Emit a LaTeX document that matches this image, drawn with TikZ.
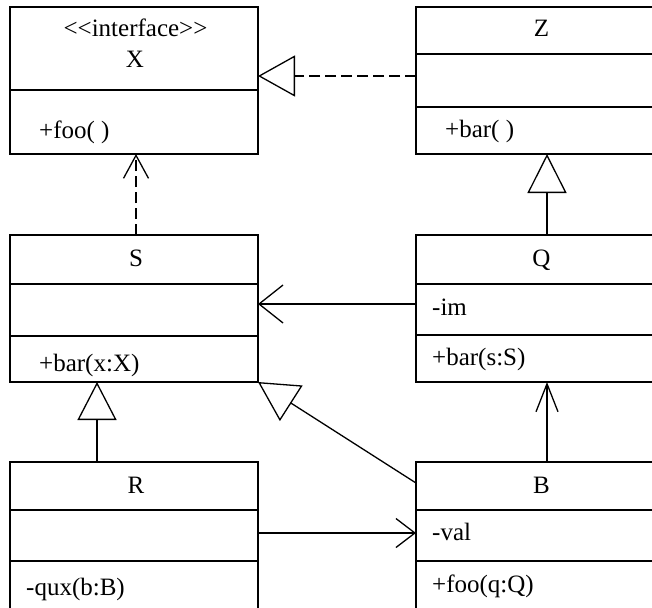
\documentclass[tikz,border=0pt]{standalone}
\usepackage{fontspec}
\setmainfont{Liberation Serif}
\usetikzlibrary{arrows.meta}
\begin{document}
\begin{tikzpicture}[x=1pt,y=-1pt,
  cls/.style={draw, line width=1.3pt, inner sep=0pt, outer sep=0pt, minimum width=248pt, anchor=north west},
  lbl/.style={inner sep=0pt, anchor=base, font=\fontsize{25}{29}\selectfont},
  mem/.style={inner sep=0pt, anchor=base west, font=\fontsize{25}{29}\selectfont},
  conn/.style={line width=1.3pt},
  dsh/.style={line width=2pt, dash pattern=on 11pt off 5pt}]
\useasboundingbox (0,0) rectangle (652,607);
\clip (0,0) rectangle (652,607);
% class boxes
\node[cls, minimum height=147pt] (X) at (10,7) {};
\node[cls, minimum height=147pt] (Z) at (416,7) {};
\node[cls, minimum height=147pt] (S) at (10,235) {};
\node[cls, minimum height=147pt] (Q) at (416,235) {};
\node[cls, minimum height=180pt] (R) at (10,462) {};
\node[cls, minimum height=180pt] (B) at (416,462) {};
% compartments
\draw[conn] ([yshift=-83pt]X.north west) -- ([yshift=-83pt]X.north east);
\draw[conn] ([yshift=-47pt]Z.north west) -- ([yshift=-47pt]Z.north east);
\draw[conn] ([yshift=-100pt]Z.north west) -- ([yshift=-100pt]Z.north east);
\draw[conn] ([yshift=-49pt]S.north west) -- ([yshift=-49pt]S.north east);
\draw[conn] ([yshift=-101pt]S.north west) -- ([yshift=-101pt]S.north east);
\draw[conn] ([yshift=-49pt]Q.north west) -- ([yshift=-49pt]Q.north east);
\draw[conn] ([yshift=-100pt]Q.north west) -- ([yshift=-100pt]Q.north east);
\draw[conn] ([yshift=-48pt]R.north west) -- ([yshift=-48pt]R.north east);
\draw[conn] ([yshift=-99pt]R.north west) -- ([yshift=-99pt]R.north east);
\draw[conn] ([yshift=-48pt]B.north west) -- ([yshift=-48pt]B.north east);
\draw[conn] ([yshift=-99pt]B.north west) -- ([yshift=-99pt]B.north east);
% texts
\node[lbl] (Xs) at (135.5,37) {{<}{<}interface{>}{>}};
\node[lbl] (Xn) at (135,68) {X};
\node[mem] (Xm) at (39,138) {+foo( )};
\node[lbl] (Zn) at (541.5,37) {Z};
\node[mem] (Zm) at (445,137) {+bar( )};
\node[lbl] (Sn) at (136,266) {S};
\node[mem] (Sm) at (39,371.5) {+bar(x:X)};
\node[lbl] (Qn) at (541.5,266) {Q};
\node[mem] (Qa) at (432,315) {-im};
\node[mem] (Qm) at (432,365.5) {+bar(s:S)};
\node[lbl] (Rn) at (136,493) {R};
\node[mem] (Rm) at (26,595.5) {-qux(b:B)};
\node[lbl] (Bn) at (541.5,493) {B};
\node[mem] (Ba) at (432,540) {-val};
\node[mem] (Bm) at (432,592) {+foo(q:Q)};
% connectors
\draw[dsh, -{Straight Barb[length=23pt,width=25pt,line width=1.3pt]}] (S.north -| 136,0) -- (X.south -| 136,0);
\draw[dsh, -{Triangle[open,length=37pt,width=41pt,line width=1.3pt]}] (Z.west |- 0,76) -- (X.east |- 0,76);
\draw[conn, -{Triangle[open,length=39pt,width=39pt]}] (Q.north -| 547,0) -- (Z.south -| 547,0);
\draw[conn, -{Straight Barb[length=24pt,width=38pt]}] (Q.west |- 0,304) -- (S.east |- 0,304);
\draw[conn, -{Triangle[open,length=38pt,width=39pt]}] (R.north -| 97,0) -- (S.south -| 97,0);
\draw[conn, -{Triangle[open,length=39.5pt,width=42pt]}] (B.west |- 0,483) -- (S.south east);
\draw[conn, -{Straight Barb[length=19pt,width=29pt]}] (R.east |- 0,533) -- (B.west |- 0,533);
\draw[conn, -{Straight Barb[length=28pt,width=22pt]}] (B.north -| 547,0) -- (Q.south -| 547,0);
\end{tikzpicture}
\end{document}
